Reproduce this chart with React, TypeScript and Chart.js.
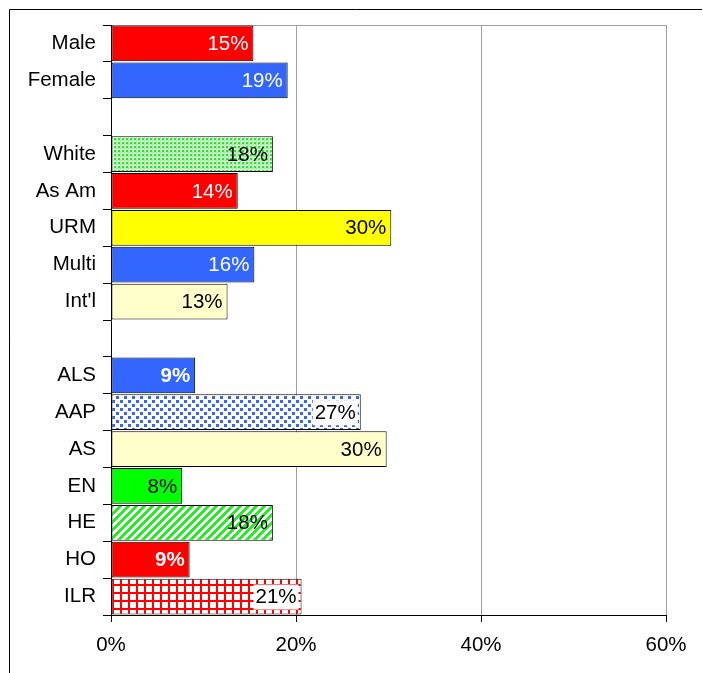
import React, { useEffect, useRef } from "react";
import { Chart, registerables } from "chart.js";

Chart.register(...registerables);

const categories = ["Male", "Female", "", "White", "As Am", "URM", "Multi", "Int'l", "", "ALS", "AAP", "AS", "EN", "HE", "HO", "ILR"];
const values: (number | null)[] = [15.4, 19.1, null, 17.5, 13.7, 30.3, 15.5, 12.6, null, 9.1, 27.0, 29.8, 7.7, 17.5, 8.5, 20.6];
const valueLabels = ["15%", "19%", "", "18%", "14%", "30%", "16%", "13%", "", "9%", "27%", "30%", "8%", "18%", "9%", "21%"];
const xTicks = [0, 20, 40, 60];

// styles
const fills = ["red", "blue", "", "dotsGreen", "red", "yellow", "blue", "cream", "", "blue", "dotsBlue", "cream", "green", "stripes", "red", "grid"];
const labelColor = ["#fff", "#fff", "", "#000", "#fff", "#000", "#fff", "#000", "", "#fff", "#000", "#000", "#000", "#000", "#fff", "#000"];
const labelBold = [false, false, false, false, false, false, false, false, false, true, false, false, false, false, true, false];
const labelBg = [false, false, false, false, false, false, false, false, false, false, true, false, false, false, false, true];

const FONT = "'Liberation Sans', Arial, sans-serif";

function makePattern(kind: string, ctx: CanvasRenderingContext2D): CanvasPattern | string {
  const t = document.createElement("canvas");
  const c = t.getContext("2d")!;
  if (kind === "dotsGreen") {
    t.width = 4; t.height = 4;
    c.fillStyle = "#e8ffe8"; c.fillRect(0, 0, 4, 4);
    c.fillStyle = "#a6f5a6"; c.fillRect(0, 0, 4, 1); c.fillRect(0, 0, 1, 4);
    c.fillStyle = "#33dd33"; c.fillRect(2, 2, 2, 2);
  } else if (kind === "dotsBlue") {
    t.width = 8; t.height = 8;
    c.fillStyle = "#ffffff"; c.fillRect(0, 0, 8, 8);
    c.fillStyle = "#3366ff"; c.fillRect(0, 0, 3, 3); c.fillRect(4, 4, 3, 3);
  } else if (kind === "stripes") {
    t.width = 8; t.height = 8;
    c.fillStyle = "#ffffff"; c.fillRect(0, 0, 8, 8);
    c.fillStyle = "#22ee22";
    for (let x = 0; x < 8; x++) for (let y = 0; y < 8; y++) if ((x + y) % 8 < 4) c.fillRect(x, y, 1, 1);
  } else if (kind === "grid") {
    t.width = 8; t.height = 8;
    c.fillStyle = "#ffffff"; c.fillRect(0, 0, 8, 8);
    c.fillStyle = "#ff0000"; c.fillRect(0, 0, 8, 2); c.fillRect(0, 0, 2, 8);
  } else {
    const map: Record<string, string> = { red: "#ff0000", blue: "#3366ff", yellow: "#ffff00", cream: "#ffffcc", green: "#00ff00" };
    return map[kind] || "#000";
  }
  return ctx.createPattern(t, "repeat")!;
}

const framePlugin = {
  id: "frame",
  beforeDraw(chart: any) {
    const { ctx, width, height, chartArea } = chart;
    ctx.save();
    ctx.fillStyle = "#fff";
    ctx.fillRect(0, 0, width, height);
    ctx.strokeStyle = "#000";
    ctx.lineWidth = 1;
    ctx.beginPath();
    ctx.moveTo(9.5, height);
    ctx.lineTo(9.5, 9.5);
    ctx.lineTo(width - 1, 9.5);
    ctx.stroke();
    ctx.strokeStyle = "#a0a0a0";
    ctx.beginPath();
    ctx.moveTo(chartArea.left, Math.round(chartArea.top) + 0.5);
    ctx.lineTo(chartArea.right + 1, Math.round(chartArea.top) + 0.5);
    ctx.stroke();
    ctx.restore();
  },
};

const labelPlugin = {
  id: "barLabels",
  afterDatasetsDraw(chart: any) {
    const { ctx } = chart;
    const meta = chart.getDatasetMeta(0);
    ctx.save();
    meta.data.forEach((bar: any, i: number) => {
      if (values[i] == null) return;
      const text = valueLabels[i];
      ctx.font = `${labelBold[i] ? "bold " : ""}20.5px ${FONT}`;
      ctx.textAlign = "right";
      ctx.textBaseline = "middle";
      const xr = bar.x - 5;
      if (labelBg[i]) {
        const w = ctx.measureText(text).width;
        ctx.fillStyle = "#fff";
        ctx.fillRect(xr - w - 2, bar.y - 12, w + 4, 25);
      }
      ctx.fillStyle = labelColor[i];
      ctx.fillText(text, xr, bar.y + 1);
    });
    ctx.restore();
  },
};

export default function App() {
  const ref = useRef<HTMLCanvasElement>(null);
  useEffect(() => {
    document.body.style.margin = "0";
    const canvas = ref.current!;
    const ctx = canvas.getContext("2d")!;
    const bg = fills.map((f) => (f ? makePattern(f, ctx) : "#fff"));
    const chart = new Chart(canvas, {
      type: "bar",
      data: {
        labels: categories,
        datasets: [
          {
            data: values as any,
            backgroundColor: bg as any,
            borderColor: "#000",
            borderWidth: 1,
            borderSkipped: false,
            barPercentage: 0.97,
            categoryPercentage: 1,
          },
        ],
      },
      options: {
        indexAxis: "y",
        responsive: false,
        animation: false,
        devicePixelRatio: 1,
        layout: { padding: { top: 25, right: 37, left: 8, bottom: 0 } },
        plugins: { legend: { display: false }, tooltip: { enabled: false } },
        scales: {
          y: {
            grid: { drawOnChartArea: false, tickLength: 8, tickColor: "#000", offset: true },
            border: { color: "#000", width: 1 },
            ticks: { color: "#000", font: { family: FONT, size: 20.5 }, padding: 7, autoSkip: false },
            afterFit: (s: any) => { s.width = 103; },
          },
          x: {
            min: 0,
            max: 60,
            afterBuildTicks: (s: any) => { s.ticks = xTicks.map((v) => ({ value: v })); },
            grid: {
              color: (c: any) => (c.tick && c.tick.value === 0 ? "rgba(0,0,0,0)" : "#a0a0a0"),
              tickLength: 7,
              tickColor: "#000",
            },
            border: { color: "#000", width: 1 },
            ticks: {
              color: "#000",
              font: { family: FONT, size: 20.5 },
              padding: 11,
              maxRotation: 0,
              callback: (v: any) => `${v}%`,
            },
            afterFit: (s: any) => { s.height = 58; },
          },
        },
      },
      plugins: [framePlugin, labelPlugin],
    });
    return () => chart.destroy();
  }, []);
  return <canvas ref={ref} width={703} height={673} style={{ display: "block" }} />;
}
